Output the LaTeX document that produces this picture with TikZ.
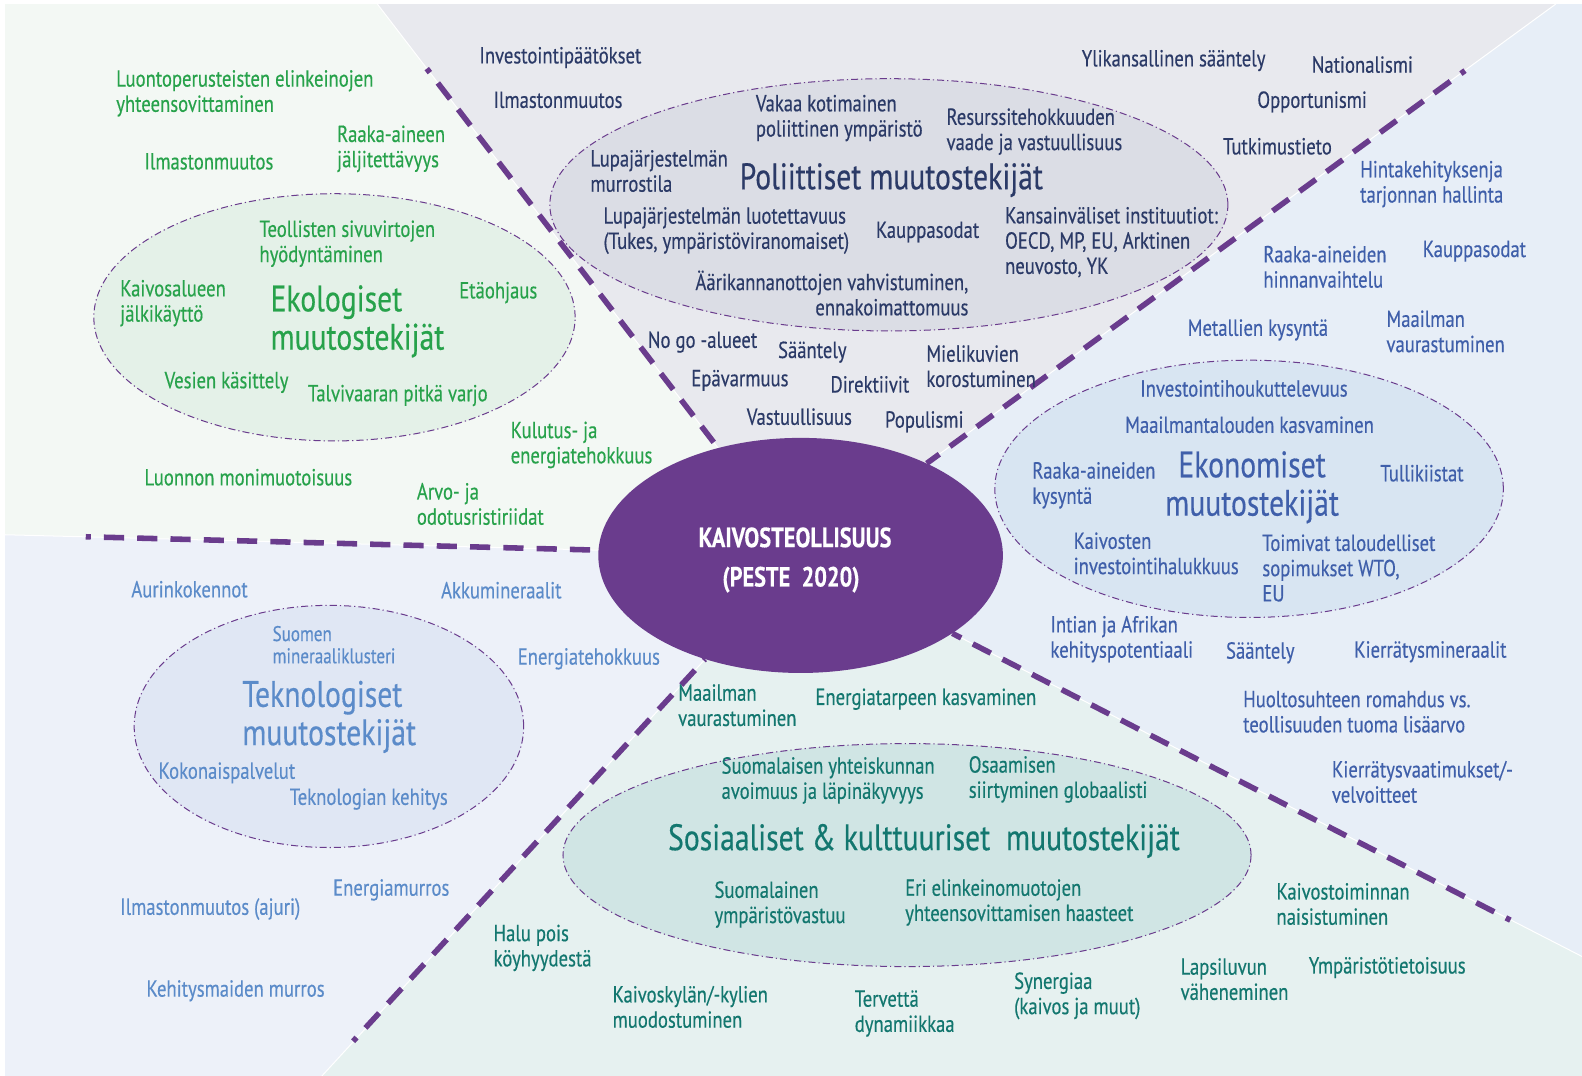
\documentclass[tikz,border=0pt]{standalone}
\usepackage{fontspec}
\setmainfont{PT Sans}[FakeStretch=0.805, FakeBold=0.4]
\usetikzlibrary{shapes.geometric}
\definecolor{polc}{HTML}{2B3A67}
\definecolor{ecoc}{HTML}{27A24B}
\definecolor{econc}{HTML}{3F5FAA}
\definecolor{tecc}{HTML}{5B8BC9}
\definecolor{socc}{HTML}{13776F}
\definecolor{hubc}{HTML}{6A3C8D}
\definecolor{bgeco}{HTML}{F3F8F4}
\definecolor{bgpol}{HTML}{E8E9EE}
\definecolor{bgecon}{HTML}{E7EEF7}
\definecolor{bgsoc}{HTML}{E6F1F0}
\definecolor{bgtec}{HTML}{EDF1F9}
\definecolor{elpol}{HTML}{DBDDE5}
\definecolor{eleco}{HTML}{E4F1E8}
\definecolor{elecon}{HTML}{D8E5F2}
\definecolor{eltec}{HTML}{E0E7F4}
\definecolor{elsoc}{HTML}{D0E5E4}
\tikzset{
  lbl/.style={inner sep=0pt, anchor=west, align=left, yshift=-2pt, font=\fontsize{23}{25}\selectfont},
  small/.style={lbl, font=\fontsize{21}{22}\selectfont},
  big/.style={inner sep=0pt, anchor=west, align=left, yshift=-2.5pt, font=\fontsize{36.5}{38}\selectfont},
  sub/.style={ellipse, inner sep=0pt, draw=hubc, line width=1pt,
    dash pattern=on 7pt off 3pt on 1.2pt off 3pt},
  divider/.style={draw=hubc, line width=5.5pt, dash pattern=on 20pt off 13pt, dash phase=15pt},
  sep/.style={draw=white, line width=1pt},
}
\begin{document}
\begin{tikzpicture}[x=1pt,y=-1pt]
\useasboundingbox (0,0) rectangle (1568,1066.47);
\fill[white] (0,0) rectangle (1568,1066.47);
% region corners
\coordinate (C) at (793.5,550.5);
\coordinate (b1) at (374,4);
\coordinate (b2) at (1542,4);
\coordinate (b3) at (5,530);
\coordinate (b4) at (319,1066.47);
\coordinate (b5) at (1568,948);
% background sectors
\fill[bgeco] (5,4) -- (b1) -- (C) -- (b3) -- cycle;
\fill[bgpol] (b1) -- (b2) -- (C) -- cycle;
\fill[bgecon] (b2) -- (1568,4) -- (b5) -- (C) -- cycle;
\fill[bgsoc] (C) -- (b5) -- (1568,1066.47) -- (b4) -- cycle;
\fill[bgtec] (b3) -- (C) -- (b4) -- (5,1066.47) -- cycle;
\draw[sep] (b1) -- (C) -- (b2);
\draw[sep] (b3) -- (C) -- (b4);
\draw[sep] (C) -- (b5);
% sub ellipses
\node[sub, fill=elpol, minimum width=672pt, minimum height=250pt] (polE) at (881,203) {};
\node[sub, fill=eleco, minimum width=477pt, minimum height=245pt] (ecoE) at (331.5,314.5) {};
\node[sub, fill=elecon, minimum width=504pt, minimum height=255pt] (econE) at (1238,484.5) {};
\node[sub, fill=eltec, minimum width=386pt, minimum height=240pt] (tecE) at (326,720) {};
\node[sub, fill=elsoc, minimum width=682pt, minimum height=221pt] (socE) at (899,847.5) {};
% divider end points
\coordinate (d1) at (423,68);
\coordinate (d2) at (1452,70);
\coordinate (d3) at (85,532);
\coordinate (d4) at (350,1032);
\coordinate (d5) at (1497,912);
% hub
\node[ellipse, inner sep=0pt, fill=hubc, minimum width=401pt, minimum height=233pt] (hub) at (793.5,550.5) {};
\node[text=white, align=center, inner sep=0pt, font=\bfseries\fontsize{27.5}{39}\selectfont]
  (hubtext) at (788,555) {KAIVOSTEOLLISUUS\\\hspace*{-8pt}(PESTE\ \ 2020)};
\draw[divider] (d1) -- (hub);
\draw[divider] (d2) -- (hub);
\draw[divider] (d3) -- (hub);
\draw[divider] (d4) -- (hub);
\draw[divider] (d5) -- (hub);
% political
\begin{scope}[every node/.append style={text=polc}]
\node[lbl] (p1) at (475,55) {Investointipäätökset};
\node[lbl] (p2) at (489,97) {Ilmastonmuutos};
\node[lbl] (p3) at (1072,58) {Ylikansallinen sääntely};
\node[lbl] (p4) at (1300,62) {Nationalismi};
\node[lbl] (p5) at (1246,99) {Opportunismi};
\node[lbl] (p6) at (1212,143) {Tutkimustieto};
\node[lbl] (p7) at (749,115) {Vakaa kotimainen\\poliittinen ympäristö};
\node[lbl] (p8) at (938,128.5) {Resurssitehokkuuden\\vaade ja vastuullisuus};
\node[lbl] (p9) at (585,167.5) {Lupajärjestelmän\\murrostila};
\node[big] (ptitle) at (733,176) {Poliittiset muutostekijät};
\node[lbl] (p10) at (598,226.5) {Lupajärjestelmän luotettavuus\\(Tukes, ympäristöviranomaiset)};
\node[lbl] (p11) at (868,228) {Kauppasodat};
\node[lbl] (p12) at (996,238) {Kansainväliset instituutiot:\\OECD, MP, EU, Arktinen\\neuvosto, YK};
\node[lbl, anchor=east, align=right] (p13) at (960,288.5) {Äärikannanottojen vahvistuminen,\\ennakoimattomuus};
\node[lbl] (p14) at (642,337) {No go -alueet};
\node[lbl] (p15) at (771,347) {Sääntely};
\node[lbl] (p16) at (918,361) {Mielikuvien\\korostuminen};
\node[lbl] (p17) at (685,375) {Epävarmuus};
\node[lbl] (p18) at (823,379) {Direktiivit};
\node[lbl] (p19) at (740,411) {Vastuullisuus};
\node[lbl] (p20) at (877,416) {Populismi};
\end{scope}
% ecological
\begin{scope}[every node/.append style={text=ecoc}]
\node[lbl] (e1) at (115,90.5) {Luontoperusteisten elinkeinojen\\yhteensovittaminen};
\node[lbl] (e2) at (334,145.5) {Raaka-aineen\\jäljitettävyys};
\node[lbl] (e3) at (143,158) {Ilmastonmuutos};
\node[lbl] (e4) at (257,239.5) {Teollisten sivuvirtojen\\hyödyntäminen};
\node[lbl] (e5) at (119,298.5) {Kaivosalueen\\jälkikäyttö};
\node[big] (etitle) at (268,316) {Ekologiset\\muutostekijät};
\node[lbl] (e6) at (455,288) {Etäohjaus};
\node[lbl] (e7) at (163,377) {Vesien käsittely};
\node[lbl] (e8) at (305,390) {Talvivaaran pitkä varjo};
\node[lbl] (e9) at (506,439) {Kulutus- ja\\energiatehokkuus};
\node[lbl] (e10) at (143,471) {Luonnon monimuotoisuus};
\node[lbl] (e11) at (413,497.5) {Arvo- ja\\odotusristiriidat};
\end{scope}
% technological
\begin{scope}[every node/.append style={text=tecc}]
\node[lbl] (t1) at (130,582) {Aurinkokennot};
\node[lbl] (t2) at (437,583) {Akkumineraalit};
\node[lbl] (t3) at (513,651) {Energiatehokkuus};
\node[small] (t4) at (270,637) {Suomen\\mineraaliklusteri};
\node[big] (ttitle) at (240,708) {Teknologiset\\muutostekijät};
\node[lbl] (t5) at (157,764) {Kokonaispalvelut};
\node[lbl] (t6) at (287,790) {Teknologian kehitys};
\node[lbl] (t7) at (330,880) {Energiamurros};
\node[lbl] (t8) at (119,899) {Ilmastonmuutos (ajuri)};
\node[lbl] (t9) at (145,980) {Kehitysmaiden murros};
\end{scope}
% economic
\begin{scope}[every node/.append style={text=econc}]
\node[lbl] (c1) at (1348,180.5) {Hintakehityksenja\\tarjonnan hallinta};
\node[lbl] (c2) at (1252,262.5) {Raaka-aineiden\\hinnanvaihtelu};
\node[lbl] (c3) at (1410,247) {Kauppasodat};
\node[lbl] (c4) at (1177,325) {Metallien kysyntä};
\node[lbl] (c5) at (1374,326.5) {Maailman\\vaurastuminen};
\node[lbl] (c6) at (1130,383) {Investointihoukuttelevuus};
\node[lbl] (c7) at (1115,419) {Maailmantalouden kasvaminen};
\node[lbl] (c8) at (1023,479) {Raaka-aineiden\\kysyntä};
\node[big, anchor=center, align=center] (ctitle) at (1241,480.5) {Ekonomiset\\muutostekijät};
\node[lbl] (c9) at (1368,467) {Tullikiistat};
\node[lbl] (c10) at (1064,546.5) {Kaivosten\\investointihalukkuus};
\node[lbl] (c11) at (1251,561) {Toimivat taloudelliset\\sopimukset WTO,\\EU};
\node[lbl] (c12) at (1041,631.5) {Intian ja Afrikan\\kehityspotentiaali};
\node[lbl] (c13) at (1215,645) {Sääntely};
\node[lbl] (c14) at (1342,644) {Kierrätysmineraalit};
\node[lbl] (c15) at (1232,703.5) {Huoltosuhteen romahdus vs.\\teollisuuden tuoma lisäarvo};
\node[lbl] (c16) at (1320,773) {Kierrätysvaatimukset/-\\velvoitteet};
\end{scope}
% social
\begin{scope}[every node/.append style={text=socc}]
\node[lbl] (s1) at (672,697) {Maailman\\vaurastuminen};
\node[lbl] (s2) at (808,691) {Energiatarpeen kasvaminen};
\node[lbl] (s3) at (715,771.5) {Suomalaisen yhteiskunnan\\avoimuus ja läpinäkyvyys};
\node[lbl] (s4) at (960,770.5) {Osaamisen\\siirtyminen globaalisti};
\node[big] (stitle) at (662,831) {Sosiaaliset \& kulttuuriset\ \ muutostekijät};
\node[lbl] (s5) at (708,894.5) {Suomalainen\\ympäristövastuu};
\node[lbl] (s6) at (897,892.5) {Eri elinkeinomuotojen\\yhteensovittamisen haasteet};
\node[lbl] (s7) at (1265,894) {Kaivostoiminnan\\naisistuminen};
\node[lbl] (s8) at (489,937.5) {Halu pois\\köyhyydestä};
\node[lbl] (s9) at (1170,968.5) {Lapsiluvun\\väheneminen};
\node[lbl] (s10) at (1297,957) {Ympäristötietoisuus};
\node[lbl] (s11) at (607,996) {Kaivoskylän/-kylien\\muodostuminen};
\node[lbl] (s12) at (847,1002.5) {Tervettä\\dynamiikkaa};
\node[lbl] (s13) at (1005,985) {Synergiaa\\(kaivos ja muut)};
\end{scope}
\end{tikzpicture}
\end{document}
